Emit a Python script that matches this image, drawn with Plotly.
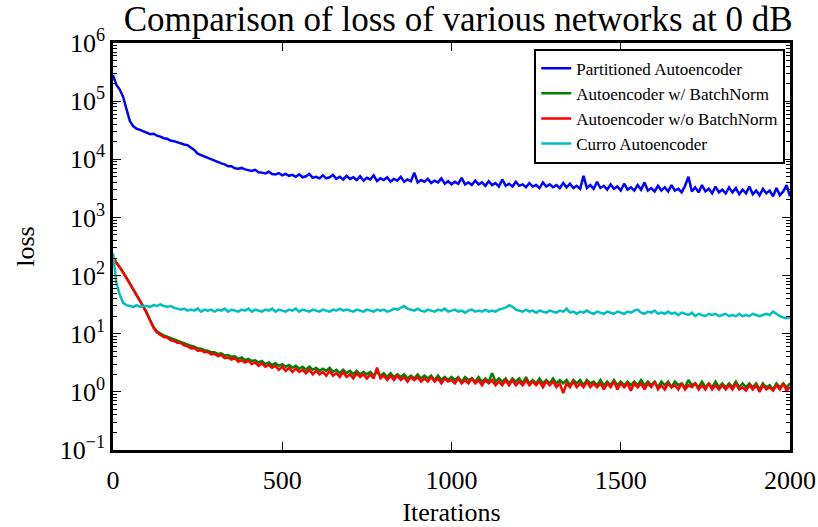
import plotly.graph_objects as go

# iterations sampled every 10 steps (0..2000)
iterations = list(range(0, 2001, 10))

partitioned = [
    280000, 190000, 158000, 118000, 72000, 45000, 37000, 33500, 32000, 30500,
    28500, 27000, 27500, 25500, 24500, 23000, 22500, 21000, 20500, 19500,
    19000, 18000, 17500, 16000, 14500, 12500, 11800, 11000, 10500, 9800,
    9500, 8800, 8500, 8200, 7600, 7600, 7000, 6900, 7100, 6700,
    6500, 6300, 6600, 6000, 5900, 5700, 6100, 5600, 5500, 5800,
    5300, 5600, 5200, 5400, 5000, 5500, 4900, 5100, 5600, 4800,
    5000, 4700, 5300, 4700, 4900, 5400, 4600, 5000, 4500, 5200,
    4600, 4900, 4400, 5100, 4300, 4800, 4500, 5300, 4200, 4700,
    4400, 4900, 4100, 4600, 4300, 5000, 4100, 4500, 4200, 5900,
    4000, 4400, 4100, 4600, 3900, 4300, 4000, 4700, 3800, 4200,
    3700, 4100, 3800, 4800, 3700, 4000, 3600, 4300, 3700, 4000,
    3500, 4200, 3600, 3900, 3400, 4500, 3500, 3800, 3400, 4100,
    3500, 3700, 3300, 3900, 3400, 3600, 3200, 4000, 3400, 3700,
    3300, 3600, 3200, 3900, 3300, 3800, 3200, 3500, 3100, 5200,
    3200, 3600, 3100, 4100, 3200, 3500, 3000, 3700, 3100, 3400,
    2900, 3800, 3000, 3300, 2900, 3600, 3000, 4000, 2900, 3200,
    2800, 3500, 2900, 3300, 2800, 3600, 2900, 3100, 2700, 3500,
    5000, 2800, 3300, 2700, 3600, 2800, 3100, 2600, 3400, 2700,
    3000, 2600, 3300, 2700, 3200, 2500, 3000, 2600, 3400, 2500,
    2900, 2400, 3100, 2600, 2900, 2300, 3200, 2400, 2800, 3600,
    2300,
]

with_batchnorm = [
    205, 170, 140, 114, 92, 73, 59, 47, 38, 30,
    23, 17, 13, 11, 10, 9.3, 8.9, 8.4, 7.9, 7.6,
    7.2, 6.9, 6.5, 6.2, 6.0, 5.6, 5.5, 5.2, 5.1, 4.8,
    4.8, 4.5, 4.6, 4.2, 4.3, 4.0, 4.1, 3.7, 3.9, 3.5,
    3.7, 3.4, 3.5, 3.2, 3.4, 3.0, 3.2, 2.9, 3.1, 2.8,
    3.0, 2.7, 2.9, 2.6, 2.8, 2.5, 2.7, 2.4, 2.7, 2.4,
    2.6, 2.3, 2.5, 2.3, 2.6, 2.2, 2.4, 2.1, 2.4, 2.1,
    2.3, 2.0, 2.3, 2.0, 2.2, 2.0, 2.2, 1.9, 2.2, 1.9,
    2.1, 1.8, 2.1, 1.8, 2.0, 1.8, 2.0, 1.7, 1.9, 1.7,
    2.0, 1.7, 1.9, 1.7, 1.9, 1.6, 1.9, 1.6, 1.8, 1.6,
    1.8, 1.6, 1.8, 1.5, 1.8, 1.6, 1.7, 1.5, 1.8, 1.5,
    1.7, 1.5, 2.1, 1.5, 1.7, 1.5, 1.7, 1.4, 1.7, 1.5,
    1.7, 1.4, 1.8, 1.4, 1.6, 1.4, 1.7, 1.4, 1.6, 1.4,
    1.7, 1.4, 1.6, 1.4, 1.6, 1.3, 1.6, 1.4, 1.6, 1.3,
    1.6, 1.4, 1.5, 1.3, 1.6, 1.3, 1.5, 1.3, 1.6, 1.3,
    1.5, 1.3, 1.5, 1.3, 1.5, 1.3, 1.6, 1.3, 1.5, 1.3,
    1.5, 1.2, 1.5, 1.3, 1.5, 1.2, 1.5, 1.3, 1.4, 1.2,
    1.6, 1.3, 1.4, 1.2, 1.5, 1.2, 1.4, 1.2, 1.5, 1.2,
    1.4, 1.2, 1.4, 1.2, 1.5, 1.2, 1.4, 1.2, 1.4, 1.2,
    1.4, 1.1, 1.4, 1.2, 1.3, 1.1, 1.4, 1.2, 1.4, 1.2,
    1.4,
]

without_batchnorm = [
    200, 168, 138, 112, 90, 72, 58, 46, 37, 29,
    22, 16, 12.5, 10.5, 9.6, 8.8, 8.6, 7.8, 7.5, 7.0,
    6.9, 6.3, 6.1, 5.6, 5.7, 5.1, 5.2, 4.8, 4.9, 4.4,
    4.5, 4.1, 4.3, 3.8, 3.9, 3.6, 3.8, 3.3, 3.5, 3.2,
    3.4, 3.0, 3.2, 2.8, 3.1, 2.7, 2.9, 2.6, 2.8, 2.4,
    2.7, 2.3, 2.6, 2.2, 2.5, 2.2, 2.4, 2.1, 2.4, 2.0,
    2.3, 2.0, 2.2, 1.9, 2.3, 1.9, 2.1, 1.8, 2.2, 1.8,
    2.0, 1.7, 2.1, 1.8, 2.0, 1.7, 2.0, 1.7, 2.6, 1.7,
    1.9, 1.6, 1.9, 1.6, 1.9, 1.6, 1.8, 1.5, 1.8, 1.6,
    1.8, 1.5, 1.7, 1.5, 1.8, 1.5, 1.7, 1.4, 1.7, 1.5,
    1.6, 1.4, 1.7, 1.4, 1.6, 1.4, 1.7, 1.4, 1.6, 1.3,
    1.6, 1.4, 1.6, 1.3, 1.5, 1.3, 1.6, 1.3, 1.6, 1.3,
    1.5, 1.3, 1.6, 1.3, 1.5, 1.3, 1.5, 1.2, 1.5, 1.3,
    1.5, 1.2, 1.4, 0.95, 1.4, 1.2, 1.5, 1.2, 1.4, 1.2,
    1.5, 1.2, 1.4, 1.2, 1.4, 1.1, 1.4, 1.2, 1.5, 1.1,
    1.4, 1.2, 1.4, 1.05, 1.4, 1.2, 1.4, 1.1, 1.4, 1.2,
    1.5, 1.1, 1.3, 1.1, 1.4, 1.2, 1.3, 1.1, 1.4, 1.1,
    1.3, 1.2, 1.4, 1.1, 1.3, 1.1, 1.4, 1.1, 1.3, 1.1,
    1.3, 1.1, 1.3, 1.1, 1.4, 1.1, 1.2, 1.05, 1.3, 1.1,
    1.3, 1.0, 1.3, 1.1, 1.2, 1.05, 1.3, 1.1, 1.4, 1.05,
    1.2,
]

curro = [
    240, 75, 47, 34, 31, 30, 29, 31, 29, 30,
    30, 29, 31, 30, 32, 30, 29, 30, 28, 27,
    26, 27, 25, 26, 25, 27, 24, 26, 25, 26,
    24, 26, 25, 27, 24, 26, 25, 24, 26, 25,
    27, 24, 26, 25, 24, 26, 25, 27, 24, 26,
    25, 24, 26, 25, 27, 24, 26, 25, 24, 26,
    25, 24, 26, 25, 24, 26, 25, 27, 25, 26,
    25, 24, 26, 25, 24, 26, 25, 24, 26, 25,
    26, 24, 25, 27, 26, 28, 30, 27, 26, 25,
    27, 25, 24, 26, 25, 24, 26, 25, 27, 24,
    25, 26, 24, 25, 23, 25, 26, 24, 25, 24,
    26, 24, 25, 24, 26, 27, 28, 31, 29, 26,
    25, 24, 26, 24, 25, 23, 25, 24, 23, 25,
    24, 23, 25, 24, 27, 23, 24, 22, 24, 23,
    25, 23, 22, 24, 23, 22, 24, 23, 22, 24,
    23, 22, 24, 23, 25, 26, 23, 22, 24, 23,
    25, 22, 23, 22, 24, 22, 23, 21, 23, 22,
    21, 23, 20, 22, 21, 20, 22, 21, 22, 20,
    21, 22, 20, 21, 20, 22, 20, 21, 20, 22,
    21, 20, 21, 22, 21, 24, 22, 20, 19, 18.5,
    19,
]

series_names = [
    "Partitioned Autoencoder",
    "Autoencoder w/ BatchNorm",
    "Autoencoder w/o BatchNorm",
    "Curro Autoencoder",
]
series_values = [partitioned, with_batchnorm, without_batchnorm, curro]
series_colors = ["#0000ff", "#008000", "#ff0000", "#00bfbf"]

y_tick_vals = [0.1, 1, 10, 100, 1000, 10000, 100000, 1000000]
y_tick_text = ["10<sup>−1</sup>", "10<sup>0</sup>", "10<sup>1</sup>", "10<sup>2</sup>",
               "10<sup>3</sup>", "10<sup>4</sup>", "10<sup>5</sup>", "10<sup>6</sup>"]
x_tick_vals = [0, 500, 1000, 1500, 2000]

FONT = "Liberation Serif, DejaVu Serif, serif"

fig = go.Figure()
for name, vals, col in zip(series_names, series_values, series_colors):
    fig.add_trace(go.Scatter(x=iterations, y=vals, mode="lines", name=name,
                             line=dict(color=col, width=2.5)))

minor_vals = [m * 10 ** k for k in range(-1, 6) for m in range(2, 10)]

fig.update_layout(
    width=818, height=527,
    margin=dict(l=113, r=28, t=43, b=77, autoexpand=False),
    paper_bgcolor="white", plot_bgcolor="white",
    font=dict(family=FONT, color="black", size=26),
    title=dict(text="Comparison of loss of various networks at 0 dB",
               x=0.56, xanchor="center", y=0.965, yanchor="middle",
               font=dict(size=35, family=FONT)),
    legend=dict(x=0.993, xanchor="right", y=0.986, yanchor="top",
                bordercolor="black", borderwidth=2, bgcolor="white",
                font=dict(size=17, family=FONT), tracegroupgap=0,
                itemwidth=30),
    showlegend=True,
)
fig.update_xaxes(
    range=[0, 2000], tickvals=x_tick_vals, ticks="inside", ticklen=8,
    tickwidth=1, tickcolor="black", showline=True, linecolor="black",
    linewidth=2.5, mirror="allticks", showgrid=False, zeroline=False,
    title=dict(text="Iterations", standoff=12, font=dict(size=26)),
    tickfont=dict(size=26), ticklabelstandoff=5, automargin=False,
)
fig.update_yaxes(
    type="log", range=[-1, 6], tickvals=y_tick_vals, ticktext=y_tick_text,
    ticks="inside", ticklen=8, tickwidth=1, tickcolor="black",
    showline=True, linecolor="black", linewidth=2.5, mirror="allticks",
    showgrid=False, zeroline=False, automargin=False,
    minor=dict(tickvals=minor_vals, ticks="inside", ticklen=4,
               tickcolor="black", tickwidth=1, showgrid=False),
    title=dict(text="loss", standoff=18, font=dict(size=26)),
    tickfont=dict(size=26),
)

fig.write_html("out.html")
